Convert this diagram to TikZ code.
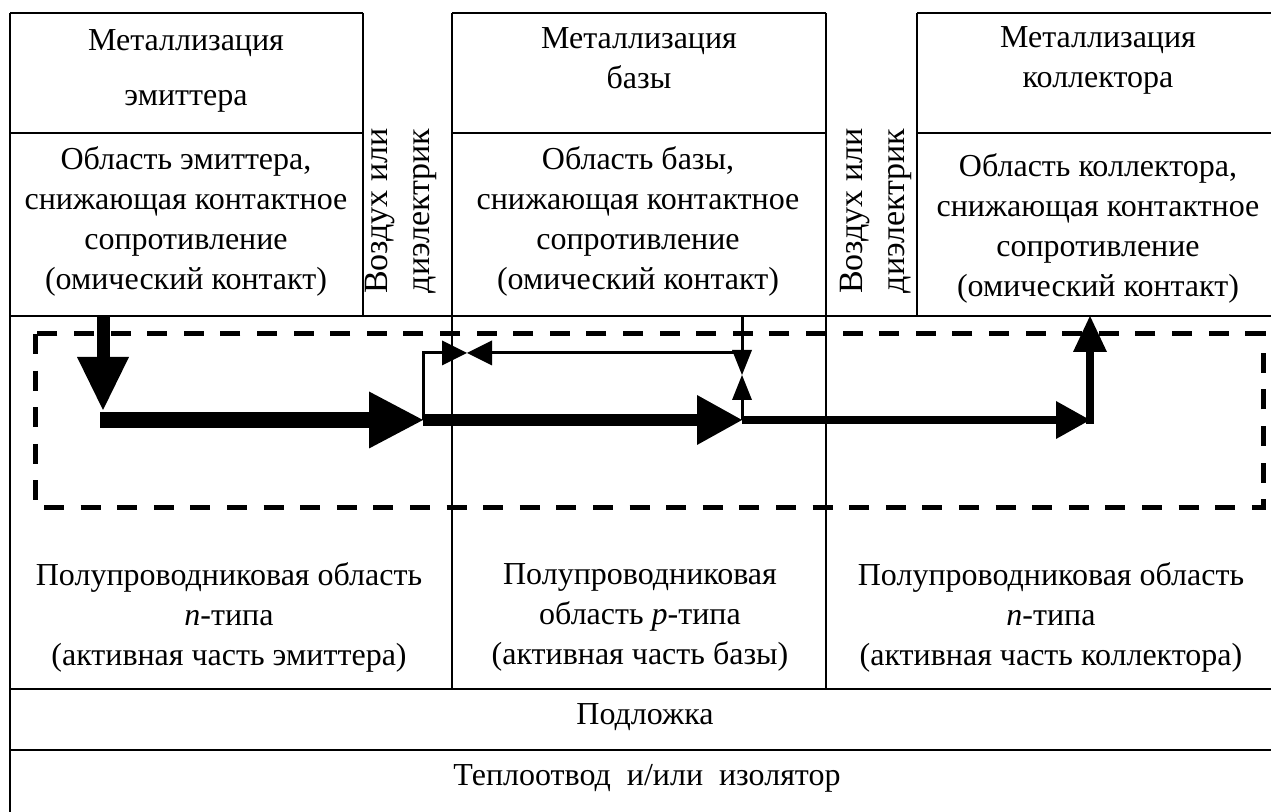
\documentclass[tikz,border=0pt]{standalone}
\usepackage{fontspec}
\setmainfont{Liberation Serif}
\usetikzlibrary{arrows.meta}
\begin{document}
\begin{tikzpicture}[x=0.5pt, y=-0.5pt, line join=miter,
	frame/.style={line width=1.3pt},
	lbl/.style={align=center, inner sep=0pt, font=\fontsize{16}{20}\selectfont},
	gap/.style={lbl, rotate=90, font=\fontsize{17}{21}\selectfont},
	thinflow/.style={line width=1.5pt, -{Triangle[length=12.5pt, width=#1, line width=0pt]}}]
	\useasboundingbox (0,0) rectangle (1271,812);
	\clip (0,0) rectangle (1271,812);
	% каркас
	\draw[frame] (10,13)--(363,13) (452,13)--(826,13) (917,13)--(1280,13);
	\draw[frame] (10,133)--(363,133) (452,133)--(826,133) (917,133)--(1280,133);
	\draw[frame] (10,316)--(1280,316) (10,689)--(1280,689) (10,750)--(1280,750);
	\draw[frame] (10,13)--(10,830) (1280,13)--(1280,830);
	\draw[frame] (363,13)--(363,316) (917,13)--(917,316);
	\draw[frame] (452,13)--(452,689) (826,13)--(826,689);
	% надписи
	\node[lbl] (metE) at (186,71) {Металлизация\\[7.5pt]эмиттера};
	\node[lbl] (metB) at (639,58) {Металлизация\\базы};
	\node[lbl] (metC) at (1098,60) {Металлизация\\коллектора};
	\node[lbl] (ohmE) at (186,221) {Область эмиттера,\\снижающая контактное\\сопротивление\\(омический контакт)};
	\node[lbl] (ohmB) at (638,221) {Область базы,\\снижающая контактное\\сопротивление\\(омический контакт)};
	\node[lbl] (ohmC) at (1098,228) {Область коллектора,\\снижающая контактное\\сопротивление\\(омический контакт)};
	\node[gap] (gapE) at (401,211) {Воздух или\\диэлектрик};
	\node[gap] (gapC) at (876,211) {Воздух или\\диэлектрик};
	\node[lbl] (actE) at (229,617) {Полупроводниковая область\\\textit{n}-типа\\(активная часть эмиттера)};
	\node[lbl] (actB) at (640,617) {Полупроводниковая\\область \textit{p}-типа\\(активная часть базы)};
	\node[lbl] (actC) at (1051,617) {Полупроводниковая область\\\textit{n}-типа\\(активная часть коллектора)};
	\node[lbl] (sub) at (645,717) {Подложка};
	\node[lbl] (heat) at (647,778) {Теплоотвод\ \ и/или\ \ изолятор};
	% активная область
	\draw[line width=2.5pt, dash pattern=on 10pt off 8.3pt] (35,334) rectangle (1263,508);
	% токи
	\coordinate (E0) at (103,316);
	\coordinate (E1) at (103,410);
	\coordinate (E2) at (100,420);
	\coordinate (J1) at (423,420);
	\coordinate (J2) at (742,420);
	\coordinate (C1) at (1090,420);
	\coordinate (C0) at (1090,316);
	\coordinate (L1) at (423,353);
	\coordinate (M1) at (467,353);
	\coordinate (B1) at (742,353);
	\coordinate (B0) at (742,316);
	\coordinate (M2) at (742,375);
	\draw[line width=6.5pt, -{Triangle[length=26.5pt, width=26pt, line width=0pt]}] (E0)--(E1);
	\draw[line width=8pt, -{Triangle[length=27pt, width=28.5pt, line width=0pt]}] (E2)--(J1);
	\draw[line width=6pt, -{Triangle[length=22.5pt, width=25pt, line width=0pt]}] (J1)--(J2);
	\draw[line width=4pt, -{Triangle[length=17pt, width=19pt, line width=0pt]}] (J2)--(C1);
	\draw[line width=4pt, -{Triangle[length=18pt, width=17pt, line width=0pt]}] ([yshift=-2pt]C1)--(C0);
	\draw[thinflow=12.5pt] (J1)--(L1)--(M1);
	\draw[thinflow=12.5pt] (B1)--(M1);
	\draw[thinflow=10pt] (B0)--(M2);
	\draw[thinflow=10pt] (J2)--(M2);
\end{tikzpicture}
\end{document}
